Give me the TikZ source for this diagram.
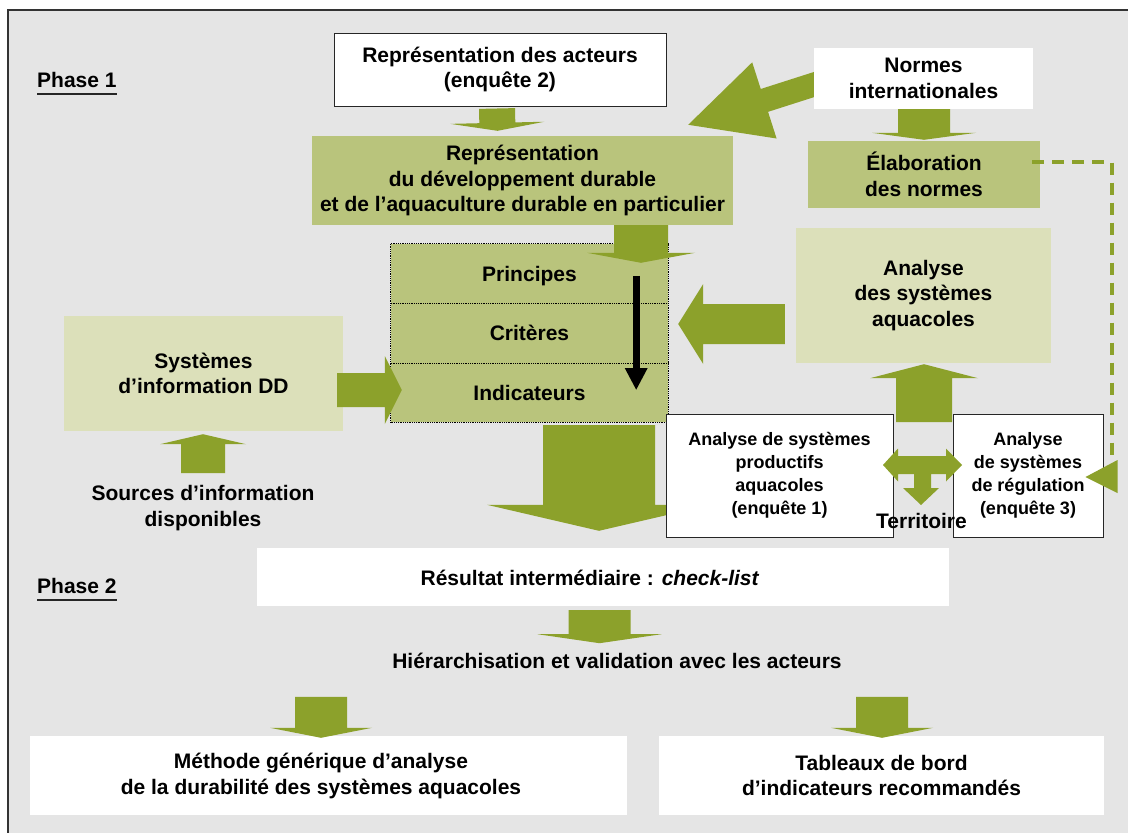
\documentclass[tikz,border=0pt]{standalone}
\usepackage{fontspec}
\setmainfont{Liberation Sans}
\usetikzlibrary{calc,arrows.meta}
\definecolor{bggray}{HTML}{E5E5E5}
\definecolor{agreen}{HTML}{8CA12B}
\definecolor{olive}{HTML}{B9C47C}
\definecolor{lightolive}{HTML}{DCE0BA}
\pgfdeclarelayer{back}
\pgfdeclarelayer{under}
\pgfsetlayers{back,under,main}
% block arrow: from, to, shaft half width, head half width, head length
\newcommand\blockarrow[5]{%
  \fill[agreen] let \p1=#1, \p2=#2,
    \n1={atan2(\y2-\y1,\x2-\x1)},
    \n2={veclen(\x2-\x1,\y2-\y1)} in
    [shift={(\p1)},rotate=\n1]
    (0,#3) -- ({\n2-#5},#3) -- ({\n2-#5},#4) -- (\n2,0)
    -- ({\n2-#5},-#4) -- ({\n2-#5},-#3) -- (0,-#3) -- cycle;}
\tikzset{
  txt/.style={font=\fontsize{21}{25.5}\selectfont\bfseries, align=center, inner sep=0pt},
  smalltxt/.style={font=\fontsize{18}{23}\selectfont\bfseries, align=center, inner sep=0pt},
  whitebox/.style={fill=white, draw=black!85, line width=1pt},
  plainwhite/.style={fill=white, draw=none},
  olivebox/.style={fill=olive, draw=none},
  lightbox/.style={fill=lightolive, draw=none},
  dotline/.style={densely dotted, line width=0.8pt, black},
}
\begin{document}
\begin{tikzpicture}[x=1pt,y=-1pt]
\useasboundingbox (0,0) rectangle (1128,833);
\begin{pgfonlayer}{back}
\fill[white] (0,0) rectangle (1128,833);
\draw[fill=bggray, draw=black!80, line width=1.3pt] (8,10) rectangle (1145,850);
\end{pgfonlayer}

% Phase labels
\node[txt, anchor=base west] (ph1) at (37,87) {Phase 1};
\draw[line width=1.3pt, black!85] ([yshift=-7pt]ph1.base west) -- ([yshift=-7pt]ph1.base east);
\node[txt, anchor=base west] (ph2) at (37,593) {Phase 2};
\draw[line width=1.3pt, black!85] ([yshift=-7pt]ph2.base west) -- ([yshift=-7pt]ph2.base east);

% Top boxes
\node[whitebox, txt, minimum width=332, minimum height=73] (acteurs) at (500,69.5)
  {Représentation des acteurs\\(enquête 2)};
\node[olivebox, txt, minimum width=421, minimum height=89] (repdd) at (522.5,180.5)
  {Représentation\\du développement durable\\et de l’aquaculture durable en particulier};
\node[plainwhite, txt, minimum width=219, minimum height=61] (normes) at (923.5,78.5)
  {Normes\\internationales};
\node[olivebox, txt, minimum width=232, minimum height=67] (elab) at (924,174.5)
  {Élaboration\\des normes};

% Stack
\node[olivebox, txt, text depth=0pt, minimum width=277, minimum height=59] (principes) at (529.5,273.5) {Principes};
\node[olivebox, txt, text depth=0pt, minimum width=277, minimum height=60] (criteres) at (529.5,333) {Critères};
\node[olivebox, txt, text depth=0pt, minimum width=277, minimum height=59] (indicateurs) at (529.5,392.5) {Indicateurs};
\draw[dotline] (principes.north west) rectangle (indicateurs.south east);
\draw[dotline] (principes.south west) -- (principes.south east);
\draw[dotline] (criteres.south west) -- (criteres.south east);

\node[lightbox, txt, minimum width=255, minimum height=135] (analyse) at (923.5,295.5)
  {Analyse\\des systèmes\\aquacoles};
\node[lightbox, txt, minimum width=279, minimum height=115] (sysdd) at (203.5,373.5)
  {Systèmes\\d’information DD};
\node[txt] (sources) at (203,508) {Sources d’information\\disponibles};

% Phase 2 boxes
\node[plainwhite, minimum width=692, minimum height=58, inner sep=0pt] (resultat) at (603,577) {};
\node[txt, anchor=base] (restxt) at (590,585) {Résultat intermédiaire : \textit{check-list}};
\node[txt, anchor=base] (hier) at (617,668) {Hiérarchisation et validation avec les acteurs};
\node[plainwhite, minimum width=597, minimum height=79, inner sep=0pt] (methode) at (328.5,775.5) {};
\node[txt] (methtxt) at (321,776) {Méthode générique d’analyse\\de la durabilité des systèmes aquacoles};
\node[plainwhite, txt, minimum width=445, minimum height=79] (tableaux) at (881.5,775.5)
  {Tableaux de bord\\d’indicateurs recommandés};

% Enquête boxes
\node[whitebox, smalltxt, minimum width=227, minimum height=123] (prod) at (779.5,475.5)
  {Analyse de systèmes\\productifs\\aquacoles\\(enquête 1)};
\node[whitebox, smalltxt, minimum width=150, minimum height=123] (reg) at (1028,475.5)
  {Analyse\\de systèmes\\de régulation\\(enquête 3)};

% Arrows under boxes
\begin{pgfonlayer}{under}
\blockarrow{($(normes.west)+(5,4.5)$)}{($(repdd.north east)+(-45,-11)$)}{12}{40}{80}
\blockarrow{($(indicateurs.south)+(69.5,3)$)}{($(resultat.north)+(-4,-17)$)}{56}{112}{26}
\blockarrow{($(analyse.south)+(0.5,59)$)}{($(analyse.south)+(0.5,1)$)}{28}{54}{14}
\end{pgfonlayer}

% Arrows
\blockarrow{($(acteurs.south)+(-3,2)$)}{($(repdd.north)+(-25,-5)$)}{18}{47}{8}
\blockarrow{($(normes.south)+(0.5,0)$)}{($(elab.north)+(0,-1)$)}{26}{52}{7}
\blockarrow{($(repdd.south)+(118.5,0)$)}{($(principes.north)+(111.5,19)$)}{27}{54}{10}
\blockarrow{($(analyse.west)+(-11,28.5)$)}{($(criteres.east)+(10,-9)$)}{20}{40}{25}
\blockarrow{($(sysdd.east)+(-6,16.5)$)}{($(indicateurs.west)+(11,-2.5)$)}{17}{34}{17}
\blockarrow{($(sysdd.south)+(-0.5,42)$)}{($(sysdd.south)+(-0.5,3)$)}{22}{43}{10}
\blockarrow{($(resultat.south)+(-3.5,4)$)}{($(resultat.south)+(-3.5,37)$)}{31}{62}{9}
\blockarrow{($(methode.north)+(-7.5,-39)$)}{($(methode.north)+(-7.5,2)$)}{26}{51}{10}
\blockarrow{($(tableaux.north)+(0.5,-39)$)}{($(tableaux.north)+(0.5,2)$)}{26}{51}{10}

% black arrow in stack
\draw[line width=7pt, -{Triangle[length=22pt,width=21pt]}]
  ($(principes.north east)+(-32,32)$) -- ($(indicateurs.south east)+(-32,-32)$);

% double arrow with territory arrow
\coordinate (dbl) at ($(prod.east)!0.5!(reg.west)+(0,-10.5)$);
\begin{scope}[shift={(dbl)}]
\fill[agreen] (-40,0) -- (-25,-16.5) -- (-25,-9) -- (23,-9) -- (23,-16.5) -- (39,0)
  -- (23,16.5) -- (23,9) -- (8,9) -- (8,23) -- (16,23) -- (-2,40) -- (-20,23)
  -- (-9,23) -- (-9,9) -- (-25,9) -- (-25,16.5) -- cycle;
\end{scope}

% dashed feedback
\draw[agreen, line width=4pt, dash pattern=on 12pt off 8pt]
  ($(elab.east)+(-8,-12.5)$) -| ($(reg.east)+(8,-14)$);
\fill[agreen] ($(reg.east)+(-18,1.5)$) -- ($(reg.east)+(14,-15.5)$) -- ($(reg.east)+(14,17.5)$) -- cycle;

\node[txt] (terr) at (921.5,520.5) {Territoire};
\end{tikzpicture}
\end{document}
